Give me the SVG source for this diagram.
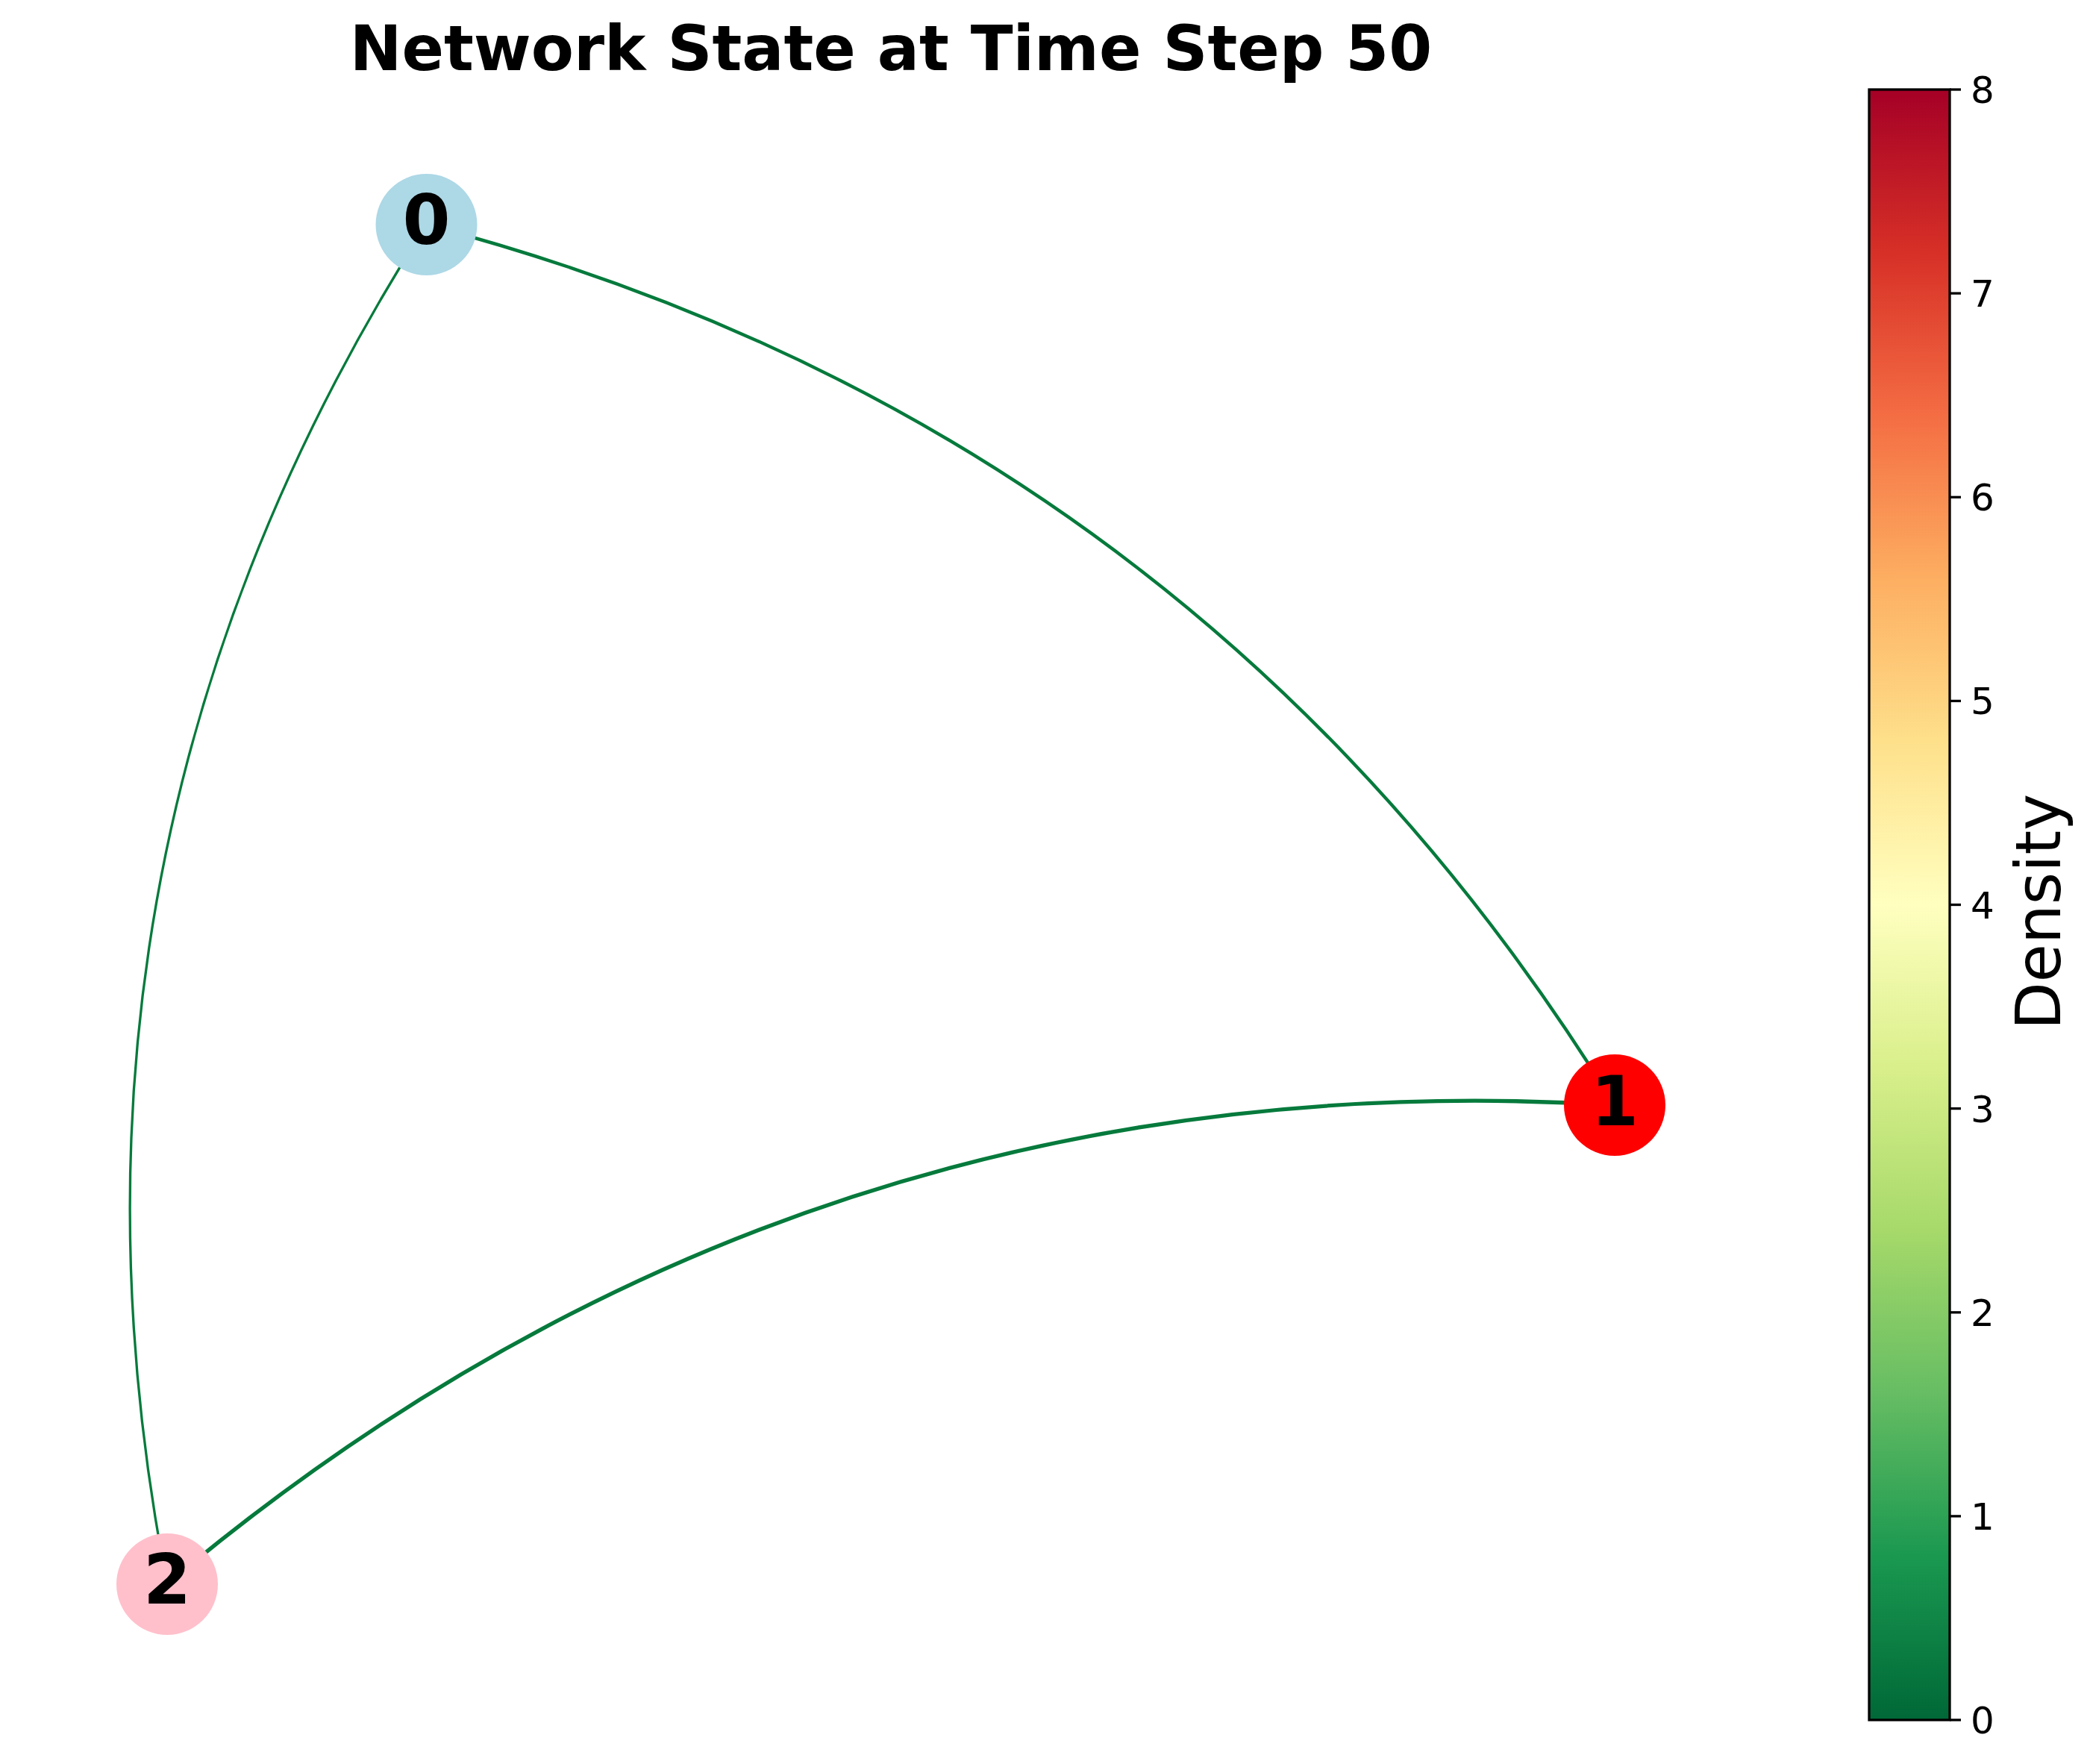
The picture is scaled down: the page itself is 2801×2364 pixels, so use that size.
<svg xmlns="http://www.w3.org/2000/svg" width="2801" height="2364" viewBox="0 0 2801 2364">
  <defs>
    <linearGradient id="cmap" x1="0" y1="1" x2="0" y2="0">
      <stop offset="0" stop-color="#006837"/>
      <stop offset="0.1" stop-color="#1a9850"/>
      <stop offset="0.2" stop-color="#66bd63"/>
      <stop offset="0.3" stop-color="#a6d96a"/>
      <stop offset="0.4" stop-color="#d9ef8b"/>
      <stop offset="0.5" stop-color="#ffffbf"/>
      <stop offset="0.6" stop-color="#fee08b"/>
      <stop offset="0.7" stop-color="#fdae61"/>
      <stop offset="0.8" stop-color="#f46d43"/>
      <stop offset="0.9" stop-color="#d73027"/>
      <stop offset="1" stop-color="#a50026"/>
    </linearGradient>
    <style>
      .edge { fill: none; stroke: #067a3c; stroke-linecap: butt; }
      .nlabel { font-family: "DejaVu Sans", "Liberation Sans", sans-serif; font-weight: bold; font-size: 92px; text-anchor: middle; fill: #000; }
      .tick { stroke: #000; stroke-width: 3.3; }
      .ticklabel { font-family: "DejaVu Sans", "Liberation Sans", sans-serif; font-size: 50px; fill: #000; }
    </style>
  </defs>
  <rect width="2801" height="2364" fill="#ffffff"/>
  <text x="1194" y="94" font-family="DejaVu Sans, Liberation Sans, sans-serif" font-weight="bold" font-size="83.3" text-anchor="middle" fill="#000">Network State at Time Step 50</text>
  <g id="edges">
    <path id="edge-1-0" class="edge" stroke-width="4.4" d="M2164,1481 Q1603.75,572.5 571.5,301"/>
    <path id="edge-1-2" class="edge" stroke-width="5.3" d="M2164,1481 Q1065.6,1414 224,2123"/>
    <path id="edge-0-2" class="edge" stroke-width="3.3" d="M571.5,301 Q33.35,1142.5 224,2123"/>
  </g>
  <g id="node-0">
    <circle cx="571.5" cy="301" r="68" fill="#add8e6"/>
    <text class="nlabel" x="571.5" y="327">0</text>
  </g>
  <g id="node-1">
    <circle cx="2164" cy="1481" r="68" fill="#ff0000"/>
    <text class="nlabel" x="2164" y="1508">1</text>
  </g>
  <g id="node-2">
    <circle cx="224" cy="2123" r="68" fill="#ffc0cb"/>
    <text class="nlabel" x="224" y="2149">2</text>
  </g>
  <g id="colorbar">
    <rect x="2505" y="120" width="108" height="2185" fill="url(#cmap)" stroke="#000" stroke-width="3.3"/>
    <line class="tick" x1="2613" y1="120" x2="2628" y2="120"/>
    <line class="tick" x1="2613" y1="393.1" x2="2628" y2="393.1"/>
    <line class="tick" x1="2613" y1="666.3" x2="2628" y2="666.3"/>
    <line class="tick" x1="2613" y1="939.4" x2="2628" y2="939.4"/>
    <line class="tick" x1="2613" y1="1212.5" x2="2628" y2="1212.5"/>
    <line class="tick" x1="2613" y1="1485.6" x2="2628" y2="1485.6"/>
    <line class="tick" x1="2613" y1="1758.8" x2="2628" y2="1758.8"/>
    <line class="tick" x1="2613" y1="2031.9" x2="2628" y2="2031.9"/>
    <line class="tick" x1="2613" y1="2305" x2="2628" y2="2305"/>
    <text class="ticklabel" x="2641" y="138">8</text>
    <text class="ticklabel" x="2641" y="411.1">7</text>
    <text class="ticklabel" x="2641" y="684.3">6</text>
    <text class="ticklabel" x="2641" y="957.4">5</text>
    <text class="ticklabel" x="2641" y="1230.5">4</text>
    <text class="ticklabel" x="2641" y="1503.6">3</text>
    <text class="ticklabel" x="2641" y="1776.8">2</text>
    <text class="ticklabel" x="2641" y="2049.9">1</text>
    <text class="ticklabel" x="2641" y="2323">0</text>
    <text transform="translate(2761,1222) rotate(-90)" font-family="DejaVu Sans, Liberation Sans, sans-serif" font-size="83.3" text-anchor="middle" fill="#000">Density</text>
  </g>
</svg>
